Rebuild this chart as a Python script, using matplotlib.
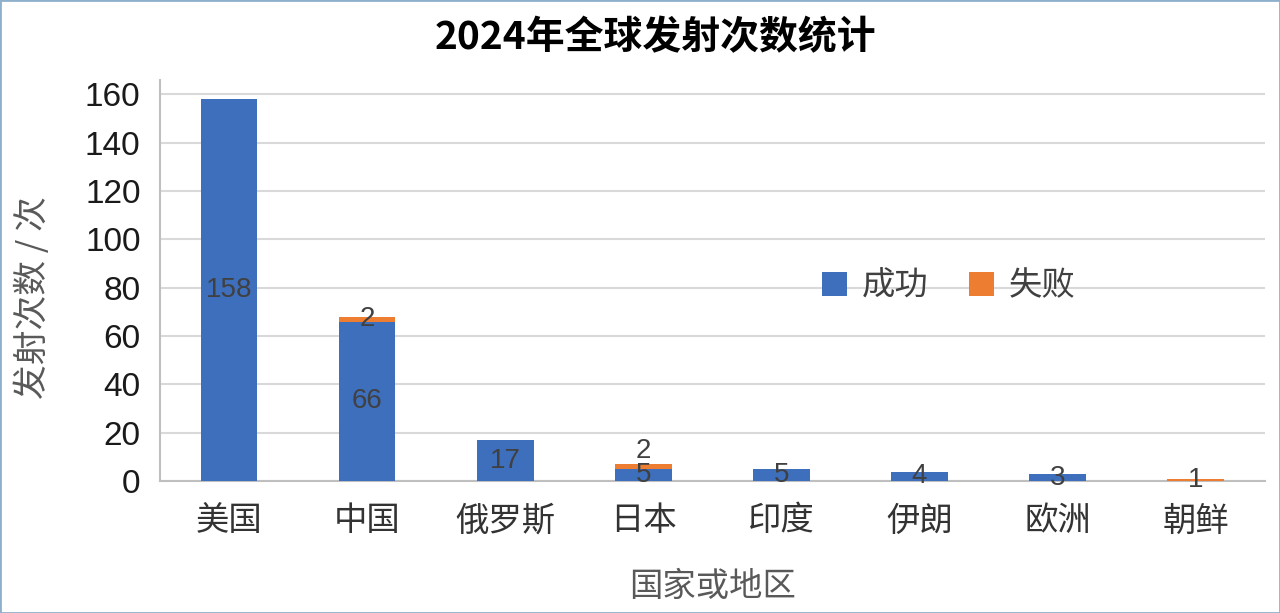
import matplotlib
matplotlib.use("Agg")
import matplotlib.pyplot as plt
import numpy as np

plt.rcParams['font.family'] = ['Noto Sans CJK SC', 'DejaVu Sans']

# data
countries = ["美国", "中国", "俄罗斯", "日本", "印度", "伊朗", "欧洲", "朝鲜"]
success = [158, 66, 17, 5, 5, 4, 3, 0]
failure = [0, 2, 0, 2, 0, 0, 0, 1]
yticks = [0, 20, 40, 60, 80, 100, 120, 140, 160]

blue = "#3d6fbd"
orange = "#ed7d31"
label_col = "#404040"
num_font = ["Liberation Sans", "DejaVu Sans"]

fig = plt.figure(figsize=(12.8, 6.13), dpi=100)
ax = fig.add_axes([0.125, 0.215, 0.863, 0.655])

x = np.arange(len(countries))
succ = np.array(success)
fail = np.array(failure)
ax.bar(x, succ, width=0.41, color=blue, label="成功", zorder=3)
ax.bar(x, fail, width=0.41, bottom=succ, color=orange, label="失败", zorder=3)

# value labels, centred in each segment (Japan's small failure label sits above)
for i in range(len(countries)):
    if succ[i] > 0:
        ax.text(x[i], succ[i] / 2, str(succ[i]), ha="center", va="center",
                fontsize=20, color=label_col, family=num_font, zorder=4)
    if fail[i] > 0:
        ax.text(x[i], succ[i] + fail[i] / 2 + (6.5 if i == 3 else 0), str(fail[i]),
                ha="center", va="center", fontsize=20, color=label_col,
                family=num_font, zorder=4)

ax.set_xlim(-0.5, len(countries) - 0.5)
ax.set_ylim(0, 166)
ax.set_yticks(yticks)
ax.set_yticklabels([str(v) for v in yticks], family=num_font, fontsize=24, color="#1a1a1a")
ax.set_xticks(x)
ax.set_xticklabels(countries, fontsize=24, color="#333333")
ax.tick_params(axis="both", length=0)
ax.tick_params(axis="y", pad=14)
ax.tick_params(axis="x", pad=16)

ax.grid(axis="y", color="#d9d9d9", linewidth=1.5, zorder=0)
for s in ["top", "right"]:
    ax.spines[s].set_visible(False)
ax.spines["left"].set_color("#bfbfbf")
ax.spines["left"].set_linewidth(1.5)
ax.spines["bottom"].set_color("#bfbfbf")
ax.spines["bottom"].set_linewidth(1.5)

ax.set_ylabel("发射次数 / 次", fontsize=25, color="#595959")
ax.yaxis.set_label_coords(-0.099, 0.458)
ax.set_xlabel("国家或地区", fontsize=24, color="#595959", labelpad=22)

ax.legend(loc="center", bbox_to_anchor=(0.714, 0.486), ncol=2, frameon=False,
          fontsize=24, handlelength=0.75, handleheight=0.75, handletextpad=0.45,
          columnspacing=1.2, labelcolor="#404040")

fig.text(0.5125, 0.938, "2024年全球发射次数统计", fontsize=28, fontweight="bold",
         ha="center", va="center")

fig.patches.append(plt.Rectangle((0, 0), 1, 1, transform=fig.transFigure,
                                 fill=False, edgecolor="#8fb0cc", linewidth=2))

fig.savefig("out.png", dpi=100)
